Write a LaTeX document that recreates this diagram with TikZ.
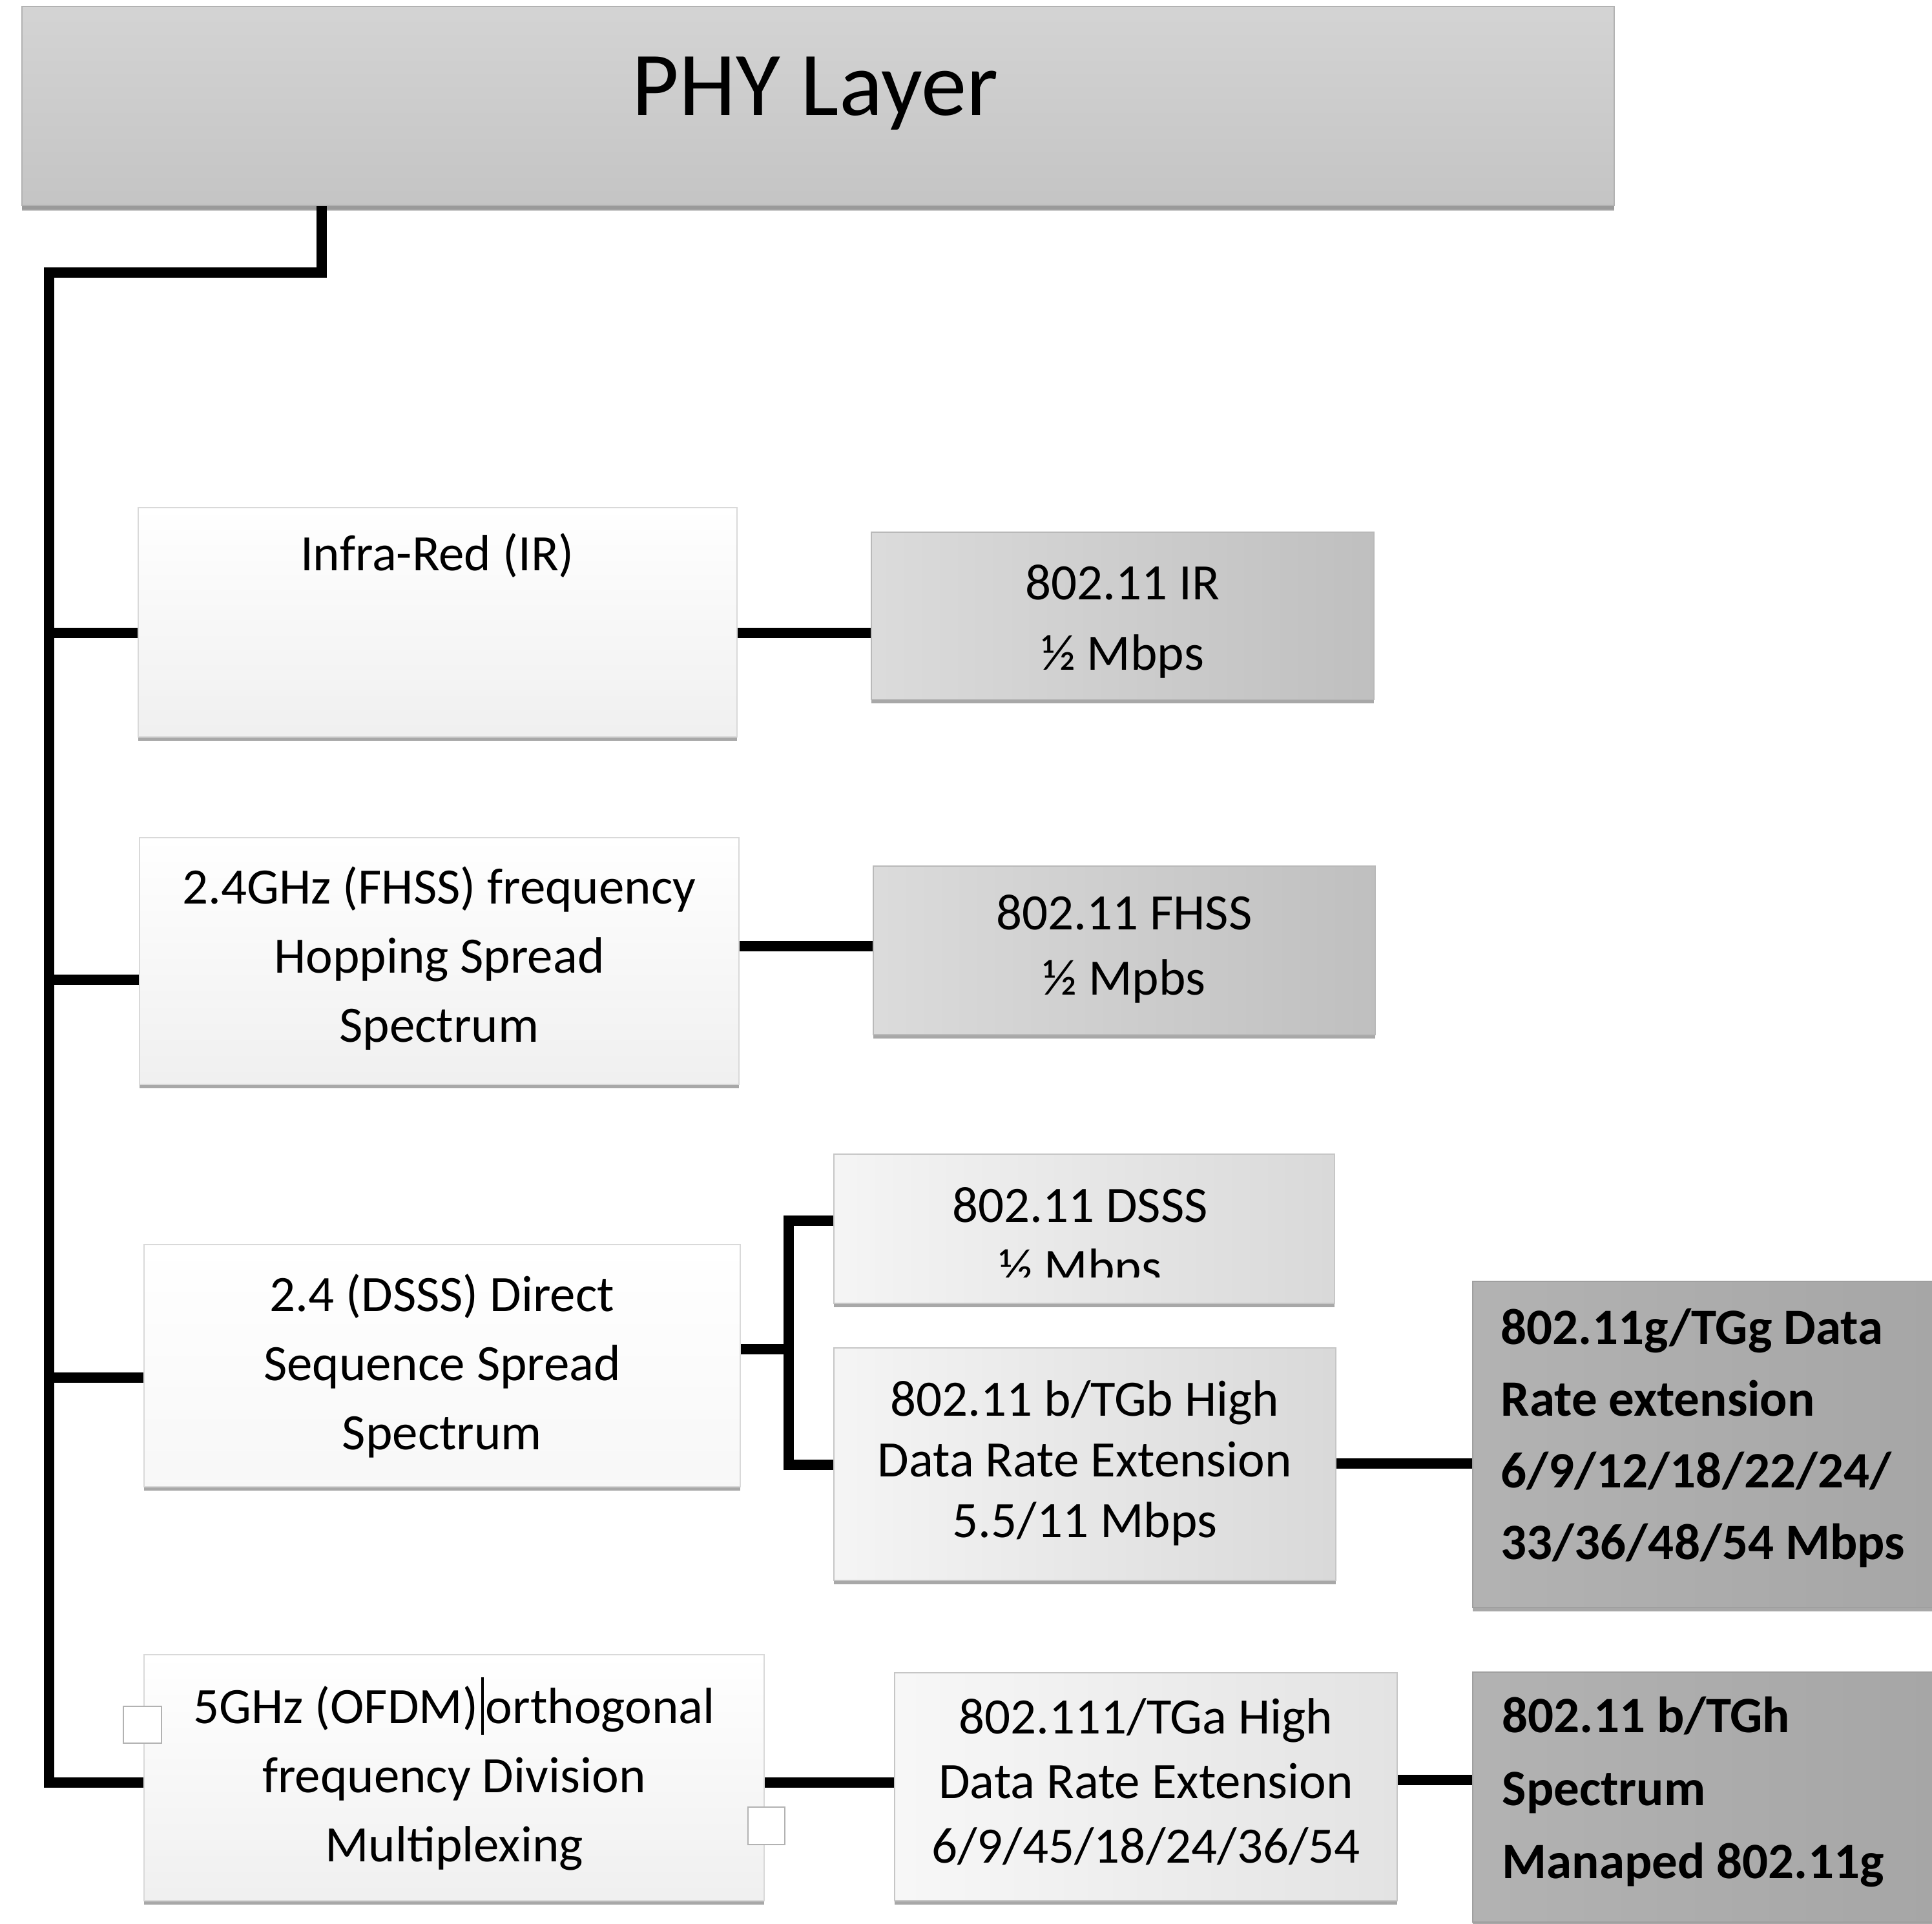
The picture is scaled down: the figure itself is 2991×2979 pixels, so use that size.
\documentclass[tikz,border=0pt]{standalone}
\usepackage{fontspec}
\setmainfont{Carlito}
\usetikzlibrary{shadows,fit}
\newcommand{\fsz}[2]{\fontsize{#1}{#2}\selectfont}
\begin{document}
\begin{tikzpicture}[x=0.25pt,y=-0.25pt,
  conn/.style={line width=4pt,black},
  bx/.style={rectangle,inner sep=0pt,line width=0.5pt,
    drop shadow={shadow xshift=0pt,shadow yshift=-1.4pt,fill=gray!75,opacity=0.9}},
  lightbox/.style={bx,draw=gray!30,top color=white,bottom color=gray!12},
  midbox/.style={bx,draw=gray!55,left color=gray!28,right color=gray!50},
  palebox/.style={bx,draw=gray!45,left color=gray!8,right color=gray!30},
  darkbox/.style={bx,draw=gray!75,left color=gray!60,right color=gray!70},
  txt/.style={inner sep=0pt,align=center,text=black},
  handle/.style={draw=gray!60,fill=white,line width=0.6pt}
]
\clip (0,0) rectangle (2991,2979);
\fill[white] (0,0) rectangle (2991,2979);

% top box
\node[bx,draw=gray!60,top color=gray!34,bottom color=gray!46,fit={(34,10) (2499,318)},
  drop shadow={shadow xshift=0pt,shadow yshift=-2pt,fill=gray!80,opacity=0.9}] (phy) {};
\node[txt,anchor=base,font=\fsz{35.25pt}{40pt}] (phyt) at (1262,178) {PHY Layer};

% left column
\node[lightbox,fit={(214,786) (1141,1141)}] (ir) {};
\node[txt,anchor=base,font=\fsz{19.75pt}{26pt}] (irt) at (677,883) {Infra-Red (IR)};

\node[lightbox,fit={(216,1297) (1144,1679)}] (fh) {};
\node[txt,font=\fsz{19.75pt}{26.75pt},yshift=0.95pt] (fht) at (fh.center)
  {2.4GHz (FHSS) frequency\\Hopping Spread\\Spectrum};

\node[lightbox,top color=white,bottom color=gray!6,fit={(223,1927) (1146,2302)}] (ds) {};
\node[txt,font=\fsz{19.75pt}{26.75pt}] (dst) at (ds.center)
  {2.4 (DSSS) Direct\\Sequence Spread\\Spectrum};

\node[lightbox,fit={(223,2562) (1183,2943)}] (of) {};
\node[txt,font=\fsz{19.75pt}{26.75pt},yshift=1.5pt] (oft) at (of.center)
  {5GHz (OFDM)\hspace{0.06em}\rule[-0.22em]{0.9pt}{1.12em}\hspace{0.04em}orthogonal\\frequency Division\\Multiplexing};
\draw[handle] (191,2642) rectangle (250,2699);
\draw[handle] (1158,2798) rectangle (1215,2856);

% middle column
\node[midbox,fit={(1349,824) (2127,1083)}] (irr) {};
\node[txt,font=\fsz{19.75pt}{27.25pt},yshift=-2.2pt] (irrt) at (irr.center) {802.11 IR\\½ Mbps};
\node[midbox,fit={(1352,1341) (2129,1602)}] (fhr) {};
\node[txt,font=\fsz{19.75pt}{25.25pt},yshift=0.5pt] (fhrt) at (fhr.center) {802.11 FHSS\\½ Mpbs};

\node[palebox,fit={(1291,1787) (2066,2018)}] (dsa) {};
\node[txt,anchor=base,font=\fsz{19.75pt}{24pt}] (dsat) at (1672,1892) {802.11 DSSS};
\begin{scope}
  \clip (1291,1900) rectangle (2066,1977);
  \node[txt,anchor=base,font=\fsz{19.75pt}{24pt}] (dsab) at (1672,1988) {½ Mbps};
\end{scope}

\node[palebox,fit={(1291,2087) (2068,2447)}] (dsb) {};
\node[txt,font=\fsz{19.75pt}{23.5pt},yshift=0.45pt] (dsbt) at (dsb.center)
  {802.11 b/TGb High\\Data Rate Extension\\5.5/11 Mbps};

\node[palebox,left color=gray!6,right color=gray!22,fit={(1385,2590) (2163,2943)}] (tga) {};
\node[txt,font=\fsz{19.75pt}{25pt},yshift=1.9pt] (tgat) at (tga.center)
  {802.111/TGa High\\Data Rate Extension\\6/9/45/18/24/36/54};

% right column
\node[darkbox,fit={(2280,1984) (3010,2489)}] (tgg) {};
\node[txt,anchor=west,align=left,font=\bfseries\fsz{19.75pt}{27.75pt}] (tggt) at (2323,2226)
  {802.11g/TGg Data\\Rate extension\\6/9/12/18/22/24/\\33/36/48/54 Mbps};

\node[darkbox,fit={(2280,2589) (3010,2976)}] (tgh) {};
\node[txt,anchor=west,align=left,font=\bfseries\fsz{19.75pt}{28.25pt}] (tght) at (2325,2774)
  {802.11 b/TGh\\Spectrum\\Manaped 802.11g};

% connectors
\coordinate (t0) at (498,422);
\coordinate (t1) at (76,422);
\coordinate (j1) at (76,980);
\coordinate (j2) at (76,1517);
\coordinate (j3) at (76,2133);
\coordinate (j4) at (76,2760);
\draw[conn] (phy.south -| t0) -- (t0) -- (t1) -- (j4) -- (j4 -| of.west);
\draw[conn] (j1) -- (j1 -| ir.west);
\draw[conn] (j2) -- (j2 -| fh.west);
\draw[conn] (j3) -- (j3 -| ds.west);

\draw[conn] (ir.east |- 0,980) -- (irr.west |- 0,980);
\draw[conn] (fh.east |- 0,1465) -- (fhr.west |- 0,1465);

\coordinate (dj) at (1221,2089);
\coordinate (dt) at (1221,1890);
\coordinate (db) at (1221,2268);
\draw[conn] (ds.east |- dj) -- (dj);
\draw[conn] (dt -| dsa.west) -- (dt) -- (db) -- (db -| dsb.west);

\draw[conn] (dsb.east |- 0,2266) -- (tgg.west |- 0,2266);
\draw[conn] (of.east |- 0,2760) -- (tga.west |- 0,2760);
\draw[conn] (tga.east |- 0,2756) -- (tgh.west |- 0,2756);
\end{tikzpicture}
\end{document}
